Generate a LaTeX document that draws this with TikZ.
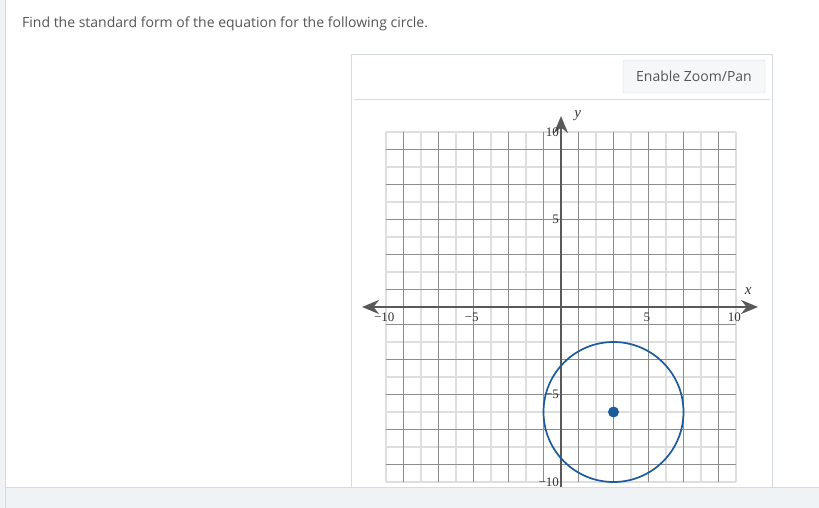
\documentclass[tikz,border=0pt]{standalone}
\usepackage{fontspec}
\setmainfont{Open Sans}
\newfontfamily\tickfont{Liberation Serif}
\usetikzlibrary{arrows.meta}
\definecolor{pagebg}{HTML}{EFF3F6}
\definecolor{rulegray}{HTML}{D5DBE0}
\definecolor{txtgray}{HTML}{555555}
\definecolor{axisgray}{HTML}{595959}
\definecolor{circblue}{HTML}{1D5C9B}
\definecolor{btnfill}{HTML}{F5F7F9}

\begin{document}
\begin{tikzpicture}[x=1pt,y=-1pt,
    tick/.style={font=\tickfont\fontsize{13}{13}\selectfont, text=black!80, inner sep=1pt}]
    \useasboundingbox (0,0) rectangle (819,508);
    \fill[white] (0,0) rectangle (819,508);
    \fill[pagebg] (0,0) rectangle (5,508);
    \draw[rulegray] (5.5,0) -- (5.5,508);
    \node[anchor=base west, inner sep=0, text=txtgray, font=\fontsize{14}{16}\selectfont] (title) at (22,28)
        {Find the standard form of the equation for the following circle.};
    \draw[rulegray] (351.5,54.5) rectangle (772.5,520);
    \draw[rulegray] (354,99.5) -- (770,99.5);
    \node[draw=rulegray, fill=btnfill, rounded corners=2pt, minimum width=142pt, minimum height=33pt,
        text=txtgray, font=\fontsize{14}{16}\selectfont] (zoombtn) at (694,76.5) {Enable Zoom/Pan};
    \begin{scope}[shift={(561,307)}, x=17.5pt, y=17.5pt]
        \foreach \i in {-10,-8,...,10} {
            \draw[black!13, line width=1.6pt] (\i,-10) -- (\i,10);
            \draw[black!13, line width=1.6pt] (-10,\i) -- (10,\i);
        }
        \foreach \i in {-9,-7,...,9} {
            \draw[black!45, line width=0.6pt] (\i,-10) -- (\i,10);
            \draw[black!45, line width=0.6pt] (-10,\i) -- (10,\i);
        }
        \coordinate (xleft) at (-11.37,0);
        \coordinate (xright) at (11.26,0);
        \coordinate (ybot) at (0,-10.5);
        \coordinate (ytop) at (0,10.91);
        \draw[axisgray, line width=2.2pt, {Stealth[length=17pt,width=14pt]}-{Stealth[length=17pt,width=14pt]}] (xleft) -- (xright);
        \draw[axisgray, line width=2.2pt, -{Stealth[length=17pt,width=14pt]}] (ybot) -- (ytop);
        \node[tick, font=\tickfont\itshape\fontsize{15}{15}\selectfont] (xlab) at (10.69,0.91) {x};
        \node[tick, font=\tickfont\itshape\fontsize{15}{15}\selectfont] (ylab) at (0.95,10.91) {y};
        \foreach \i/\t in {-10/−10,-5/−5,5/5,10/10} {
            \node[tick] (xt\i) at (\i-0.1,-0.6) {\t};
            \node[tick, anchor=east] (yt\i) at (-0.05,\i) {\t};
        }
        \draw[circblue, line width=1.7pt] (3,-6) circle (4);
        \fill[circblue] (3,-6) circle (5.5pt);
    \end{scope}
    \fill[pagebg] (5.5,487.5) rectangle (819,508);
    \draw[rulegray] (5.5,487.5) -- (819,487.5);
\end{tikzpicture}
\end{document}
